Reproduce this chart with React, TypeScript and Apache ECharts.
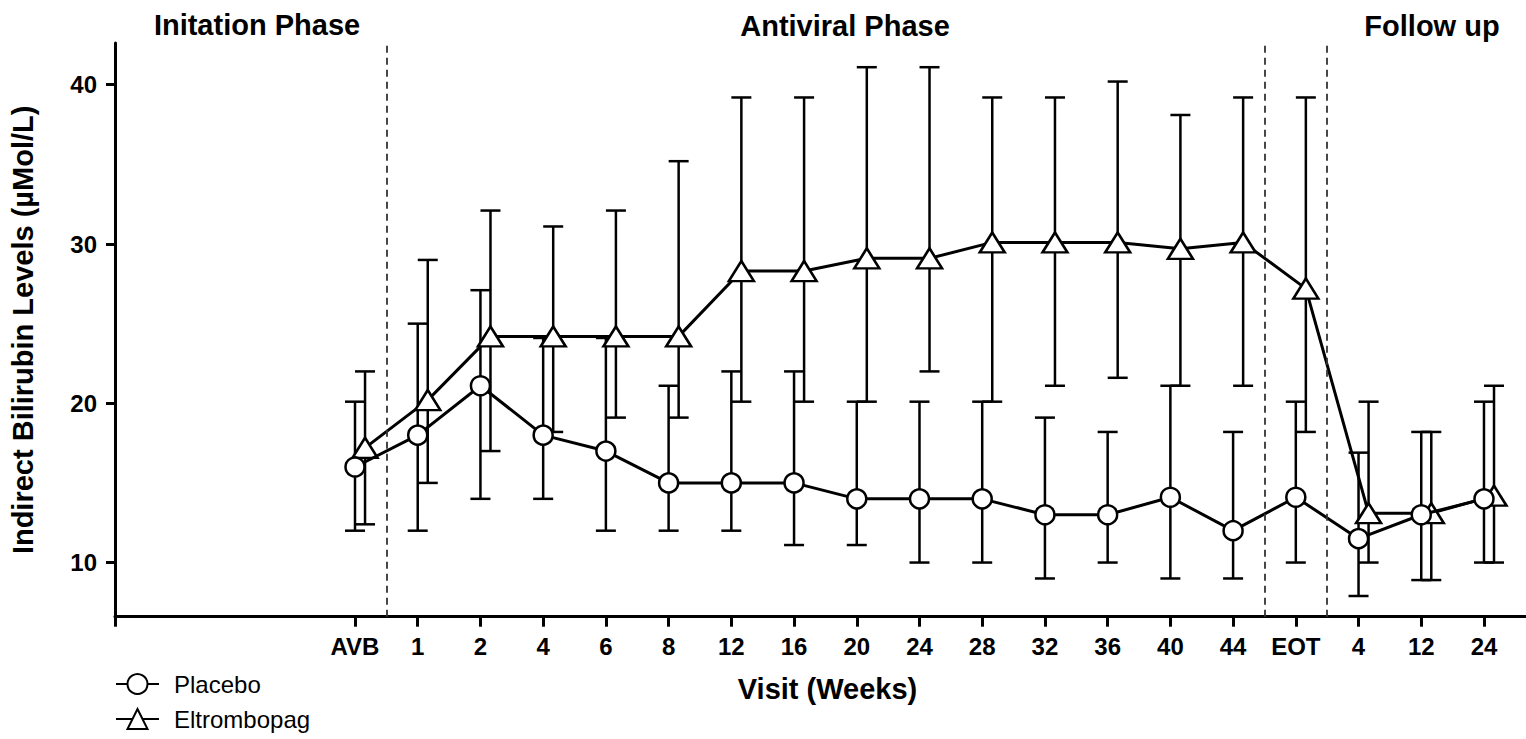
import React, { useEffect, useRef } from "react";
import * as echarts from "echarts";

// ---- Data ----
const categories = ["AVB", "1", "2", "4", "6", "8", "12", "16", "20", "24", "28", "32", "36", "40", "44", "EOT", "4", "12", "24"];

const placeboMean = [16, 18, 21.1, 18, 17, 15, 15, 15, 14, 14, 14, 13, 13, 14.1, 12, 14.1, 11.5, 13, 14];
const placeboLow = [12, 12, 14, 14, 12, 12, 12, 11.1, 11.1, 10, 10, 9, 10, 9, 9, 10, 7.9, 8.9, 10];
const placeboHigh = [20.1, 25, 27.1, 24.1, 24.1, 21.1, 22, 22, 20.1, 20.1, 20.1, 19.1, 18.2, 21.1, 18.2, 20.1, 16.9, 18.2, 20.1];

const eltMean = [17.2, 20.2, 24.2, 24.2, 24.2, 24.2, 28.3, 28.3, 29.1, 29.1, 30.1, 30.1, 30.1, 29.7, 30.1, 27.2, 13.1, 13.1, 14.2];
const eltLow = [12.4, 15, 17, 18.2, 19.1, 19.1, 20.1, 20.1, 20.1, 22, 20.1, 21.1, 21.6, 21.1, 21.1, 18.2, 10, 8.9, 10];
const eltHigh = [22, 29, 32.1, 31.1, 32.1, 35.2, 39.2, 39.2, 41.1, 41.1, 39.2, 39.2, 40.2, 38.1, 39.2, 39.2, 20.1, 18.2, 21.1];

const yTicks = [10, 20, 30, 40];
const phaseDividers = [0.5, 14.5, 15.5];
const phaseLabels = ["Initation Phase", "Antiviral Phase", "Follow up"];
const seriesNames = ["Placebo", "Eltrombopag"];

// ---- Layout constants ----
const X_MIN = -3.8265;
const X_MAX = 18.67;
const Y_MIN = 6.6;
const Y_MAX = 42.62;
const ELT_OFFSET = 0.16;
const FONT = '"Liberation Sans", Arial, Helvetica, sans-serif';

const errorBarRender = (params: any, api: any) => {
  const x = api.value(0);
  const lo = api.value(1);
  const hi = api.value(2);
  const top = api.coord([x, hi]);
  const bot = api.coord([x, lo]);
  const hw = 10;
  const style = { stroke: "#000", lineWidth: 2.5, fill: "none" };
  return {
    type: "group",
    children: [
      { type: "line", shape: { x1: top[0], y1: top[1], x2: bot[0], y2: bot[1] }, style },
      { type: "line", shape: { x1: top[0] - hw, y1: top[1], x2: top[0] + hw, y2: top[1] }, style },
      { type: "line", shape: { x1: bot[0] - hw, y1: bot[1], x2: bot[0] + hw, y2: bot[1] }, style },
    ],
  };
};

export default function App() {
  const ref = useRef<HTMLDivElement>(null);

  useEffect(() => {
    if (!ref.current) return;
    const chart = echarts.init(ref.current, null, { renderer: "svg" });

    const labelIdx = categories.map((_, i) => i);

    const option: any = {
      animation: false,
      backgroundColor: "#fff",
      grid: {
        left: 115,
        right: 0,
        top: 43,
        bottom: 122.3,
        containLabel: false,
        outerBoundsMode: "none",
      },
      legend: {
        data: seriesNames,
        orient: "vertical",
        left: 115,
        top: 672,
        padding: 0,
        itemWidth: 43,
        itemHeight: 25,
        itemGap: 11,
        textStyle: { fontFamily: FONT, fontSize: 24, color: "#000", padding: [0, 0, 0, 10] },
      },
      xAxis: {
        type: "value",
        min: X_MIN,
        max: X_MAX,
        name: "Visit (Weeks)",
        nameLocation: "middle",
        nameGap: 58,
        nameTextStyle: { fontFamily: FONT, fontSize: 29, fontWeight: "bold", color: "#000", padding: [0, 0, 0, 14] },
        splitLine: { show: false },
        axisLine: { onZero: false, lineStyle: { color: "#000", width: 3 } },
        axisTick: { show: true, length: 10, lineStyle: { color: "#000", width: 3 }, customValues: [X_MIN, ...labelIdx] },
        axisLabel: {
          customValues: labelIdx,
          margin: 18,
          fontFamily: FONT,
          fontSize: 24,
          fontWeight: "bold",
          color: "#000",
          formatter: (v: number) => {
            const i = Math.round(v);
            return Math.abs(v - i) < 1e-6 && i >= 0 && i < categories.length ? categories[i] : "";
          },
        },
      },
      yAxis: {
        type: "value",
        min: Y_MIN,
        max: Y_MAX,
        name: "Indirect Bilirubin Levels (µMol/L)",
        nameLocation: "middle",
        nameGap: 78,
        nameTextStyle: { fontFamily: FONT, fontSize: 29, fontWeight: "bold", color: "#000" },
        splitLine: { show: false },
        axisLine: { show: true, onZero: false, lineStyle: { color: "#000", width: 3 } },
        axisTick: { show: true, length: 9, lineStyle: { color: "#000", width: 3 }, customValues: yTicks },
        axisLabel: {
          customValues: yTicks,
          margin: 18,
          fontFamily: FONT,
          fontSize: 24,
          fontWeight: "bold",
          color: "#000",
        },
      },
      graphic: [
        { type: "text", x: 257, y: 25, style: { text: phaseLabels[0], align: "center", verticalAlign: "middle", fontFamily: FONT, fontSize: 29, fontWeight: "bold", fill: "#000" } },
        { type: "text", x: 845, y: 26, style: { text: phaseLabels[1], align: "center", verticalAlign: "middle", fontFamily: FONT, fontSize: 29, fontWeight: "bold", fill: "#000" } },
        { type: "text", x: 1432, y: 26, style: { text: phaseLabels[2], align: "center", verticalAlign: "middle", fontFamily: FONT, fontSize: 29, fontWeight: "bold", fill: "#000" } },
      ],
      series: [
        {
          type: "custom",
          name: "placeboErr",
          z: 1,
          renderItem: errorBarRender,
          encode: { x: 0, y: [1, 2] },
          data: placeboLow.map((lo, i) => [i, lo, placeboHigh[i]]),
          markLine: {
            silent: true,
            symbol: ["none", "none"],
            label: { show: false },
            lineStyle: { color: "#333", width: 1.8, type: [7, 5] },
            data: phaseDividers.map((v) => ({ xAxis: v })),
          },
        },
        {
          type: "custom",
          name: "eltErr",
          z: 1,
          renderItem: errorBarRender,
          encode: { x: 0, y: [1, 2] },
          data: eltLow.map((lo, i) => [i + ELT_OFFSET, lo, eltHigh[i]]),
        },
        {
          type: "line",
          name: seriesNames[1],
          z: 3,
          data: eltMean.map((v, i) => [i + ELT_OFFSET, v]),
          symbol: "triangle",
          symbolSize: [25, 20],
          showAllSymbol: true,
          itemStyle: { color: "#fff", borderColor: "#000", borderWidth: 2.5 },
          lineStyle: { color: "#000", width: 3 },
        },
        {
          type: "line",
          name: seriesNames[0],
          z: 4,
          data: placeboMean.map((v, i) => [i, v]),
          symbol: "circle",
          symbolSize: 19,
          showAllSymbol: true,
          itemStyle: { color: "#fff", borderColor: "#000", borderWidth: 2.5 },
          lineStyle: { color: "#000", width: 3 },
        },
      ],
    };

    chart.setOption(option);
    return () => chart.dispose();
  }, []);

  return (
    <div
      ref={ref}
      style={{ position: "absolute", left: 0, top: 0, width: "1526px", height: "739px", background: "#fff" }}
    />
  );
}
